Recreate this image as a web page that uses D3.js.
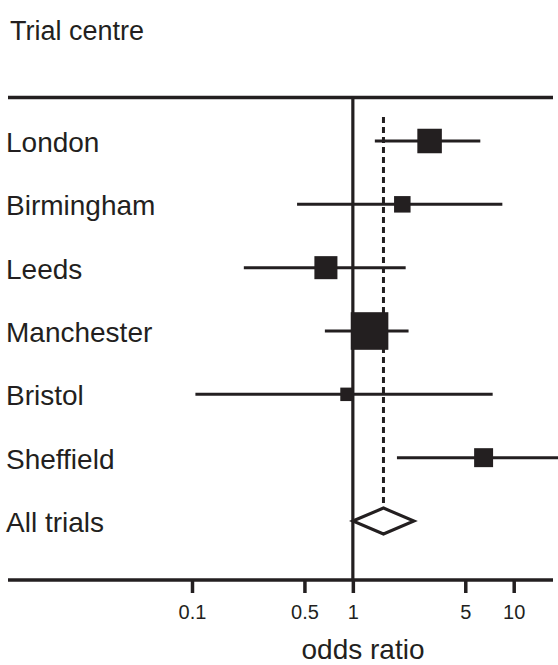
<!DOCTYPE html>
<html>
<head>
<meta charset="utf-8">
<script src="https://cdn.jsdelivr.net/npm/d3@7"></script>
<style>
  html, body { margin: 0; padding: 0; background: #fff; }
  svg { display: block; }
  text { font-family: "Liberation Sans", Arial, Helvetica, sans-serif; fill: #231f20; }
</style>
</head>
<body>
<script>
// ---- data ----
const centres   = ["London", "Birmingham", "Leeds", "Manchester", "Bristol", "Sheffield"];
const oddsRatio = [3.0, 2.03, 0.68, 1.27, 0.92, 6.5];
const lowerCI   = [1.37, 0.45, 0.21, 0.67, 0.105, 1.88];
const upperCI   = [6.2, 8.5, 2.13, 2.22, 7.4, 20];
const weights   = [17.9, 8.1, 15.8, 42.1, 5.4, 10.7];   // % weight (square area)
const pooledLabel = "All trials";
const pooled    = { or: 1.55, lo: 1.0, hi: 2.4 };
const tickValues = [0.1, 0.5, 1, 5, 10];
const tickLabels = ["0.1", "0.5", "1", "5", "10"];

// ---- layout ----
const W = 558, H = 665;
const ink = "#231f20";
const svg = d3.select("body").append("svg").attr("width", W).attr("height", H);

const x = d3.scaleLog().domain([0.1, 10]).range([192, 513.7]);
const y = d3.scalePoint().domain([...centres, pooledLabel]).range([141, 521]);
const size = d3.scaleSqrt().domain([0, d3.max(weights)]).range([0, 37.6]);

const topY = 97.5, axisY = 580;

// title
svg.append("text").attr("x", 10).attr("y", 40).attr("font-size", 27).text("Trial centre");

// horizontal frame lines
svg.append("line").attr("x1", 8).attr("x2", 553).attr("y1", topY).attr("y2", topY)
  .attr("stroke", ink).attr("stroke-width", 3.5);

// axis
const axis = d3.axisBottom(x).tickValues(tickValues)
  .tickFormat((d, i) => tickLabels[i]).tickSize(13).tickPadding(12);
const gAxis = svg.append("g").attr("transform", `translate(0,${axisY})`).call(axis);
gAxis.select(".domain").remove();
gAxis.selectAll(".tick line").attr("stroke", ink).attr("stroke-width", 3.5);
gAxis.selectAll(".tick text").attr("font-size", 20).attr("fill", ink)
  .attr("font-family", "Liberation Sans, Arial, sans-serif");
svg.append("line").attr("x1", 8).attr("x2", 553).attr("y1", axisY).attr("y2", axisY)
  .attr("stroke", ink).attr("stroke-width", 3.5);

svg.append("text").attr("x", 363).attr("y", 659).attr("text-anchor", "middle")
  .attr("font-size", 28).text("odds ratio");

// reference line at OR = 1
svg.append("line").attr("x1", x(1)).attr("x2", x(1)).attr("y1", topY).attr("y2", axisY)
  .attr("stroke", ink).attr("stroke-width", 3.2);

// dashed line at pooled estimate
svg.append("line").attr("x1", x(pooled.or)).attr("x2", x(pooled.or))
  .attr("y1", y(centres[0]) - 24).attr("y2", y(pooledLabel) - 13)
  .attr("stroke", ink).attr("stroke-width", 3).attr("stroke-dasharray", "6,4");

// row labels
svg.selectAll("text.row").data([...centres, pooledLabel]).join("text")
  .attr("class", "row").attr("x", 6).attr("y", d => y(d) + 11)
  .attr("font-size", 28).text(d => d);

// CI lines
const rows = centres.map((c, i) => ({ c, or: oddsRatio[i], lo: lowerCI[i], hi: upperCI[i], w: weights[i] }));
svg.selectAll("line.ci").data(rows).join("line").attr("class", "ci")
  .attr("x1", d => x(d.lo)).attr("x2", d => x(d.hi))
  .attr("y1", d => y(d.c)).attr("y2", d => y(d.c))
  .attr("stroke", ink).attr("stroke-width", 3);

// squares
svg.selectAll("rect.pt").data(rows).join("rect").attr("class", "pt")
  .attr("x", d => x(d.or) - size(d.w) / 2).attr("y", d => y(d.c) - size(d.w) / 2)
  .attr("width", d => size(d.w)).attr("height", d => size(d.w))
  .attr("fill", ink);

// pooled diamond
const py = y(pooledLabel), hh = 13;
svg.append("path")
  .attr("d", `M${x(pooled.lo)},${py} L${x(pooled.or)},${py - hh} L${x(pooled.hi)},${py} L${x(pooled.or)},${py + hh} Z`)
  .attr("fill", "#fff").attr("stroke", ink).attr("stroke-width", 3).attr("stroke-linejoin", "miter");
</script>
</body>
</html>
